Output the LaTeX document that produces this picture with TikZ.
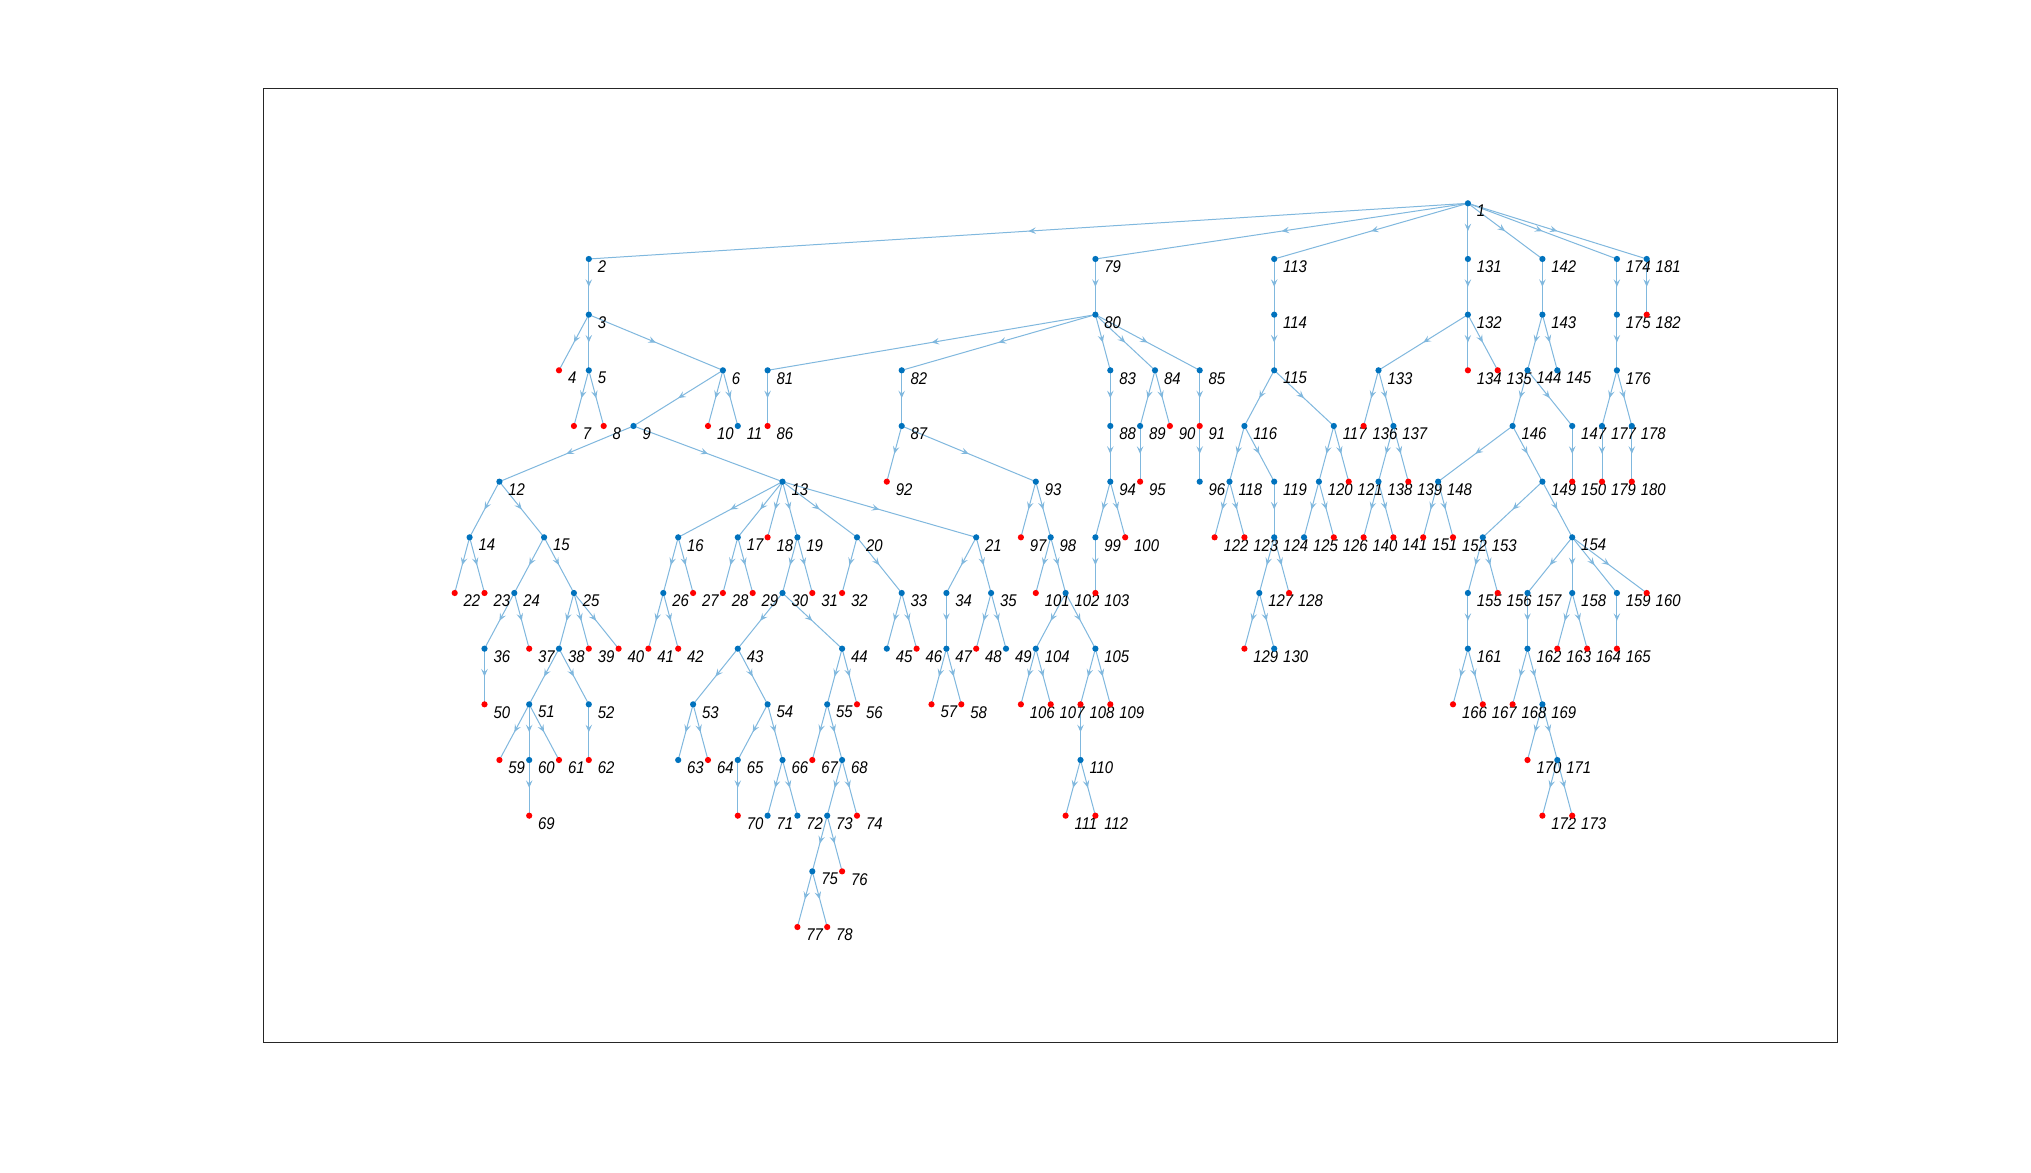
\documentclass[tikz,border=0pt]{standalone}
\usepackage{fontspec}
\setmainfont{Liberation Sans}
\newfontfamily\lblfont[FakeStretch=0.88,FakeSlant=0]{Liberation Sans}
\usetikzlibrary{arrows.meta,decorations.markings}
\pgfdeclarelayer{background}
\pgfsetlayers{background,main}
\definecolor{nb}{RGB}{0,114,189}
\definecolor{nr}{RGB}{255,0,0}
\definecolor{eblue}{RGB}{128,184,222}
\definecolor{axgray}{RGB}{38,38,38}
\tikzset{
  vtx/.style={circle, inner sep=0pt, minimum size=6.2bp, fill=#1, draw=none},
  lbl/.style={anchor=north west, inner sep=0pt, font=\lblfont\fontsize{17}{19}\selectfont\itshape},
  tedge/.style={draw=eblue, line width=1bp, postaction={decorate},
    decoration={markings, mark=at position 0.5 with {\arrow{Stealth[length=7.5bp,width=6.5bp,inset=3bp]}}}},
  axbox/.style={draw=axgray, line width=1bp}
}
\newcommand\mynode[4]{%
  \node[vtx=#4] (n#1) at ({454.7+#2*14.9},{203.3+#3*55.67}) {};
  \node[lbl] (l#1) at ({463.5+#2*14.9},{205+#3*55.67}) {#1};
}
\begin{document}
\begin{tikzpicture}[x=1bp,y=-1bp]
\begin{pgfonlayer}{background}
\fill[white] (0,0) rectangle (2031,1172);
\end{pgfonlayer}
\node[axbox, anchor=north west, inner sep=0pt, minimum width=1574bp, minimum height=954bp] (ax) at (263.3,88.3) {};
\foreach \n/\i/\L/\c in {
1/68/0/nb,
2/9/1/nb, 79/43/1/nb, 113/55/1/nb, 131/68/1/nb, 142/73/1/nb, 174/78/1/nb, 181/80/1/nb,
3/9/2/nb, 80/43/2/nb, 114/55/2/nb, 132/68/2/nb, 143/73/2/nb, 175/78/2/nb, 182/80/2/nr,
4/7/3/nr, 5/9/3/nb, 6/18/3/nb, 81/21/3/nb, 82/30/3/nb, 83/44/3/nb, 84/47/3/nb, 85/50/3/nb, 115/55/3/nb, 133/62/3/nb, 134/68/3/nr, 135/70/3/nr, 144/72/3/nb, 145/74/3/nb, 176/78/3/nb,
7/8/4/nr, 8/10/4/nr, 9/12/4/nb, 10/17/4/nr, 11/19/4/nb, 86/21/4/nr, 87/30/4/nb, 88/44/4/nb, 89/46/4/nb, 90/48/4/nr, 91/50/4/nr, 116/53/4/nb, 117/59/4/nb, 136/61/4/nr, 137/63/4/nb, 146/71/4/nb, 147/75/4/nb, 177/77/4/nb, 178/79/4/nb,
12/3/5/nb, 13/22/5/nb, 92/29/5/nr, 93/39/5/nb, 94/44/5/nb, 95/46/5/nr, 96/50/5/nb, 118/52/5/nb, 119/55/5/nb, 120/58/5/nb, 121/60/5/nr, 138/62/5/nb, 139/64/5/nr, 148/66/5/nb, 149/73/5/nb, 150/75/5/nr, 179/77/5/nr, 180/79/5/nr,
14/1/6/nb, 15/6/6/nb, 16/15/6/nb, 17/19/6/nb, 18/21/6/nr, 19/23/6/nb, 20/27/6/nb, 21/35/6/nb, 97/38/6/nr, 98/40/6/nb, 99/43/6/nb, 100/45/6/nr, 122/51/6/nr, 123/53/6/nr, 124/55/6/nb, 125/57/6/nb, 126/59/6/nr, 140/61/6/nr, 141/63/6/nr, 151/65/6/nr, 152/67/6/nr, 153/69/6/nb, 154/75/6/nb,
22/0/7/nr, 23/2/7/nr, 24/4/7/nb, 25/8/7/nb, 26/14/7/nb, 27/16/7/nr, 28/18/7/nr, 29/20/7/nr, 30/22/7/nb, 31/24/7/nr, 32/26/7/nr, 33/30/7/nb, 34/33/7/nb, 35/36/7/nb, 101/39/7/nr, 102/41/7/nb, 103/43/7/nr, 127/54/7/nb, 128/56/7/nr, 155/68/7/nb, 156/70/7/nr, 157/72/7/nb, 158/75/7/nb, 159/78/7/nb, 160/80/7/nr,
36/2/8/nb, 37/5/8/nr, 38/7/8/nb, 39/9/8/nr, 40/11/8/nr, 41/13/8/nr, 42/15/8/nr, 43/19/8/nb, 44/26/8/nb, 45/29/8/nb, 46/31/8/nr, 47/33/8/nb, 48/35/8/nr, 49/37/8/nb, 104/39/8/nb, 105/43/8/nb, 129/53/8/nr, 130/55/8/nb, 161/68/8/nb, 162/72/8/nb, 163/74/8/nr, 164/76/8/nr, 165/78/8/nr,
50/2/9/nr, 51/5/9/nb, 52/9/9/nb, 53/16/9/nb, 54/21/9/nb, 55/25/9/nb, 56/27/9/nr, 57/32/9/nr, 58/34/9/nr, 106/38/9/nr, 107/40/9/nr, 108/42/9/nr, 109/44/9/nr, 166/67/9/nr, 167/69/9/nr, 168/71/9/nr, 169/73/9/nb,
59/3/10/nr, 60/5/10/nb, 61/7/10/nr, 62/9/10/nr, 63/15/10/nb, 64/17/10/nr, 65/19/10/nb, 66/22/10/nb, 67/24/10/nr, 68/26/10/nb, 110/42/10/nb, 170/72/10/nr, 171/74/10/nb,
69/5/11/nr, 70/19/11/nr, 71/21/11/nb, 72/23/11/nb, 73/25/11/nb, 74/27/11/nr, 111/41/11/nr, 112/43/11/nr, 172/73/11/nr, 173/75/11/nr,
75/24/12/nb, 76/26/12/nr,
77/23/13/nr, 78/25/13/nr}
  {\mynode{\n}{\i}{\L}{\c}}
\begin{pgfonlayer}{background}
\foreach \a/\b in {
1/2,1/79,1/113,1/131,1/142,1/174,1/181,
2/3,3/4,3/5,3/6,5/7,5/8,6/9,6/10,6/11,9/12,9/13,12/14,12/15,
13/16,13/17,13/18,13/19,13/20,13/21,14/22,14/23,15/24,15/25,16/26,16/27,
17/28,17/29,19/30,19/31,20/32,20/33,21/34,21/35,24/36,24/37,25/38,25/39,25/40,
26/41,26/42,30/43,30/44,33/45,33/46,34/47,35/48,35/49,36/50,38/51,38/52,
43/53,43/54,44/55,44/56,47/57,47/58,51/59,51/60,51/61,52/62,53/63,53/64,
54/65,54/66,55/67,55/68,60/69,65/70,66/71,66/72,68/73,68/74,73/75,73/76,75/77,75/78,
79/80,80/81,80/82,80/83,80/84,80/85,81/86,82/87,83/88,84/89,84/90,85/91,
87/92,87/93,88/94,89/95,91/96,93/97,93/98,94/99,94/100,98/101,98/102,99/103,
102/104,102/105,104/106,104/107,105/108,105/109,108/110,110/111,110/112,
113/114,114/115,115/116,115/117,116/118,116/119,117/120,117/121,118/122,118/123,
119/124,120/125,120/126,124/127,124/128,127/129,127/130,
131/132,132/133,132/134,132/135,133/136,133/137,137/138,137/139,138/140,138/141,
142/143,143/144,143/145,144/146,144/147,146/148,146/149,147/150,148/151,148/152,
149/153,149/154,153/155,153/156,154/157,154/158,154/159,154/160,155/161,157/162,
158/163,158/164,159/165,161/166,161/167,162/168,162/169,169/170,169/171,171/172,171/173,
174/175,175/176,176/177,176/178,177/179,178/180,181/182}
  {\draw[tedge] (n\a.center) -- (n\b.center);}
\end{pgfonlayer}
\end{tikzpicture}
\end{document}
